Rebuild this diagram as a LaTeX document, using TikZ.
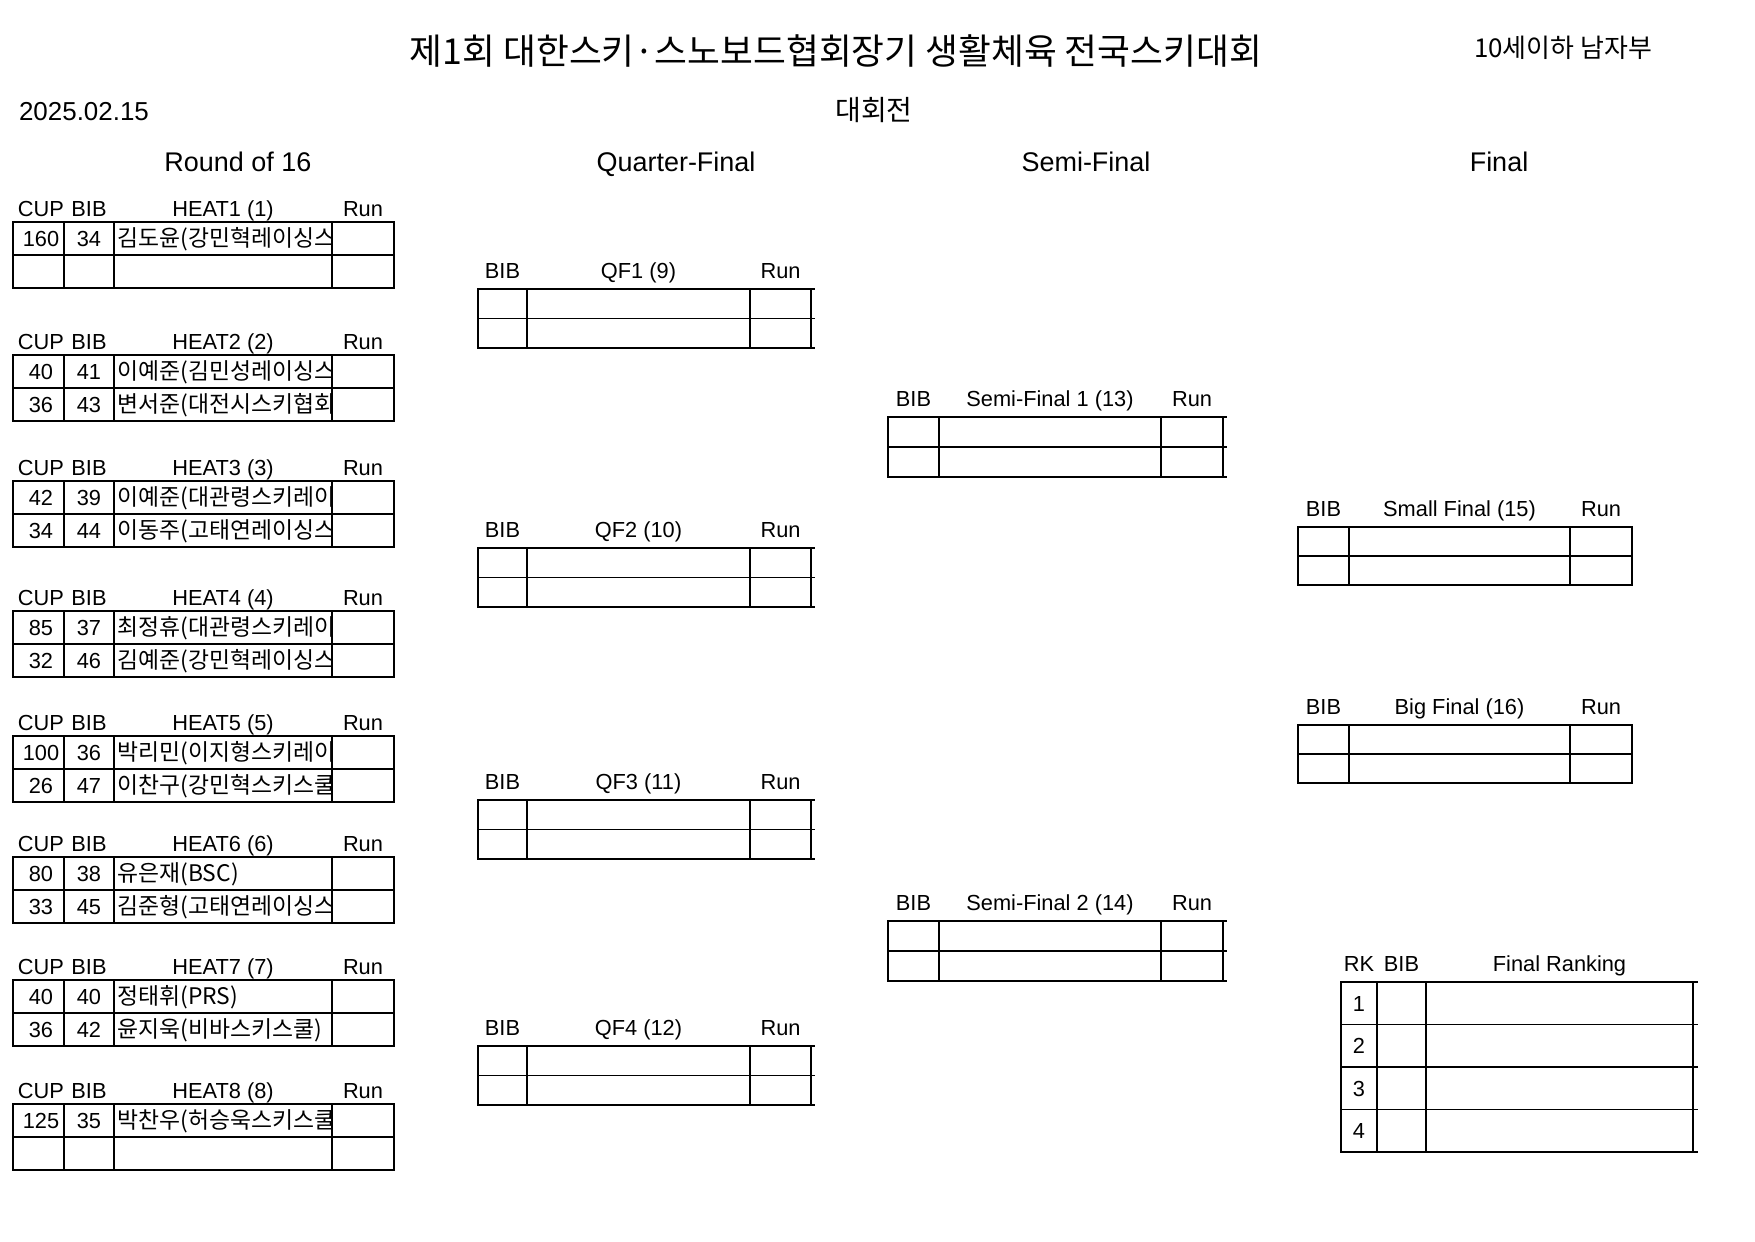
\documentclass[tikz,border=0pt]{standalone}
\usepackage{fontspec}
\setmainfont{Liberation Sans}
\newfontfamily\krfont{Noto Sans CJK KR}
\usetikzlibrary{positioning}
\tikzset{
  tabline/.style={draw,line width=0.9pt,line cap=rect},
  lbl/.style={inner sep=0pt,text height=7.6pt,text depth=0pt,font=\fontsize{10.5}{12}\selectfont},
  namelbl/.style={inner sep=0pt,anchor=west,text height=8pt,text depth=0pt,font=\krfont\fontsize{11}{13}\selectfont},
  sect/.style={inner sep=0pt,text height=9.4pt,text depth=0pt,font=\fontsize{13}{15}\selectfont},
}
% heat table: tag, top, title, cup/bib/name of row 1, cup/bib/name of row 2
\newcommand{\heattab}[9]{%
  \node[lbl] (#1-hc) at (41,#2-13) {CUP};
  \node[lbl] (#1-hb) at (89,#2-13) {BIB};
  \node[lbl] (#1-ht) at (223,#2-13) {#3};
  \node[lbl] (#1-hr) at (363,#2-13) {Run};
  \draw[tabline] (13,#2) rectangle (394,#2+66);
  \draw[tabline] (13,#2+33) -- (394,#2+33);
  \foreach \cx in {64,114,332} \draw[tabline] (\cx,#2) -- (\cx,#2+66);
  \node[lbl] (#1-c1) at (41,#2+16.5) {#4};
  \node[lbl] (#1-b1) at (89,#2+16.5) {#5};
  \node[lbl] (#1-c2) at (41,#2+49.5) {#7};
  \node[lbl] (#1-b2) at (89,#2+49.5) {#8};
  \begin{scope}
    \clip (114,#2) rectangle (332,#2+66);
    \node[namelbl] (#1-n1) at (117,#2+16.5) {#6};
    \node[namelbl] (#1-n2) at (117,#2+49.5) {#9};
  \end{scope}
}
% two-row table: tag, column lines, end of rules, top, row height, title
\newcommand{\duel}[9]{%
  \node[lbl] (#1-hb) at ({(#2+#3)/2},{#7-18}) {BIB};
  \node[lbl] (#1-ht) at ({(#3+#4)/2},{#7-18}) {#9};
  \node[lbl] (#1-hr) at ({(#4+#5)/2},{#7-18}) {Run};
  \foreach \ry in {0,1,2} \draw[tabline] (#2,{#7+\ry*#8}) -- (#6,{#7+\ry*#8});
  \foreach \cx in {#2,#3,#4,#5} \draw[tabline] (\cx,#7) -- (\cx,{#7+2*#8});
}
\begin{document}
\begin{tikzpicture}[x=0.16933mm,y=-0.16933mm]
\useasboundingbox (0,0) rectangle (1755,1241);

% heading
\node[font=\krfont\fontsize{17.2}{20}\selectfont] (title) at (836,51) {제1회 대한스키·스노보드협회장기 생활체육 전국스키대회};
\node[font=\krfont\fontsize{12.5}{15}\selectfont] (class) at (1563,48) {10세이하 남자부};
\node[font=\fontsize{12.5}{15}\selectfont,inner sep=0pt] (date) at (84,112) {2025.02.15};
\node[font=\krfont\fontsize{13.5}{16}\selectfont] (event) at (874,110) {대회전};

\node[sect] (r16) at (238,162) {Round of 16};
\node[sect] (qf) at (676,162) {Quarter-Final};
\node[sect] (sf) at (1086,162) {Semi-Final};
\node[sect] (fin) at (1499,162) {Final};

% round of 16
\heattab{h1}{222}{HEAT1 (1)}{160}{34}{김도윤(강민혁레이싱스}{}{}{}
\heattab{h2}{355}{HEAT2 (2)}{40}{41}{이예준(김민성레이싱스}{36}{43}{변서준(대전시스키협회}
\heattab{h3}{481}{HEAT3 (3)}{42}{39}{이예준(대관령스키레이}{34}{44}{이동주(고태연레이싱스}
\heattab{h4}{611}{HEAT4 (4)}{85}{37}{최정휴(대관령스키레이}{32}{46}{김예준(강민혁레이싱스}
\heattab{h5}{736}{HEAT5 (5)}{100}{36}{박리민(이지형스키레이}{26}{47}{이찬구(강민혁스키스쿨}
\heattab{h6}{857}{HEAT6 (6)}{80}{38}{유은재(BSC)}{33}{45}{김준형(고태연레이싱스}
\heattab{h7}{980}{HEAT7 (7)}{40}{40}{정태휘(PRS)}{36}{42}{윤지욱(비바스키스쿨)}
\heattab{h8}{1104}{HEAT8 (8)}{125}{35}{박찬우(허승욱스키스쿨}{}{}{}

% quarter-finals
\duel{qf1}{478}{527}{750}{811}{814}{289}{29.5}{QF1 (9)}
\duel{qf2}{478}{527}{750}{811}{814}{548}{29.5}{QF2 (10)}
\duel{qf3}{478}{527}{750}{811}{814}{800}{29.5}{QF3 (11)}
\duel{qf4}{478}{527}{750}{811}{814}{1046}{29.5}{QF4 (12)}

% semi-finals
\duel{sf1}{888}{939}{1161}{1223}{1226}{417}{30}{Semi-Final 1 (13)}
\duel{sf2}{888}{939}{1161}{1223}{1226}{921}{30}{Semi-Final 2 (14)}

% finals
\duel{smf}{1298}{1349}{1570}{1632}{1632}{527}{29}{Small Final (15)}
\duel{bgf}{1298}{1349}{1570}{1632}{1632}{725}{29}{Big Final (16)}

% final ranking
\node[lbl] (rank-hk) at (1359,964) {RK};
\node[lbl] (rank-hb) at (1401.5,964) {BIB};
\node[lbl] (rank-ht) at (1559.5,964) {Final Ranking};
\foreach \ry in {0,...,4} \draw[tabline] (1341,{982+\ry*42.5}) -- (1697,{982+\ry*42.5});
\foreach \cx in {1341,1377,1426,1693} \draw[tabline] (\cx,982) -- (\cx,1152);
\foreach \k in {1,...,4} \node[lbl] (rank\k) at (1359,{982+(\k-0.5)*42.5}) {\k};
\end{tikzpicture}
\end{document}
